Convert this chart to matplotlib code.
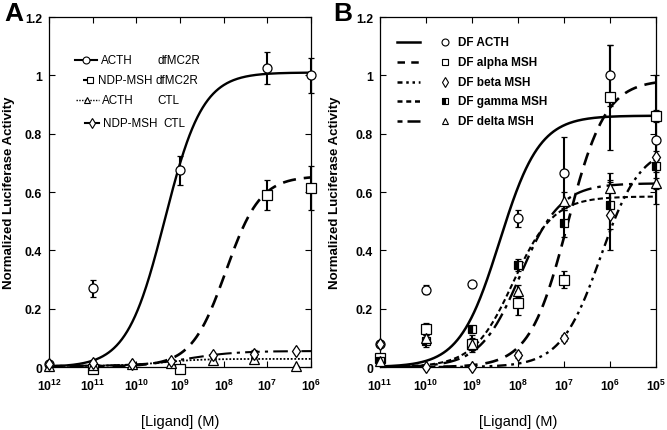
import numpy as np
import matplotlib
matplotlib.use("Agg")
import matplotlib.pyplot as plt
from matplotlib.lines import Line2D

plt.rcParams['font.family'] = ['Liberation Sans', 'DejaVu Sans']
plt.rcParams['font.weight'] = 'bold'
plt.rcParams['mathtext.fontset'] = 'custom'
plt.rcParams['mathtext.rm'] = 'Liberation Sans:bold'
plt.rcParams['mathtext.bf'] = 'Liberation Sans:bold'
plt.rcParams['mathtext.default'] = 'rm'

# ---------------- Panel A data ----------------
a_xlog = [-12, -11, -10, -9, -8, -7, -6]
a_xlabels = ["12", "11", "10", "9", "8", "7", "6"]
a_yticks = [0, 0.2, 0.4, 0.6, 0.8, 1.0, 1.2]
a_ylabels = ["0", "0.2", "0.4", "0.6", "0.8", "1", "1.2"]

acth_df_x = [-12, -11, -9, -7, -6]
acth_df_y = [0.01, 0.27, 0.675, 1.025, 1.0]
acth_df_e = [0.0, 0.03, 0.05, 0.055, 0.06]

ndp_df_x = [-11, -9, -7, -6]
ndp_df_y = [-0.005, -0.005, 0.59, 0.615]
ndp_df_e = [0.0, 0.0, 0.05, 0.075]

acth_ctl_x = [-12, -11, -10.1, -9.2, -8.25, -7.3, -6.35]
acth_ctl_y = [0.005, 0.006, 0.01, 0.015, 0.025, 0.028, 0.005]
acth_ctl_e = [0.0, 0.004, 0.004, 0.005, 0.005, 0.005, 0.0]

ndp_ctl_x = [-12, -11, -10.1, -9.2, -8.25, -7.3, -6.35]
ndp_ctl_y = [0.01, 0.015, 0.012, 0.02, 0.04, 0.045, 0.055]
ndp_ctl_e = [0.0, 0.008, 0.006, 0.008, 0.005, 0.012, 0.0]

# fit parameters: bottom, top, logEC50, hill
acth_df_fit = [0.0, 1.01, -9.35, 1.0]
ndp_df_fit = [0.003, 0.655, -7.95, 1.1]
acth_ctl_fit = [0.004, 0.028, -9.4, 1.0]
ndp_ctl_fit = [0.004, 0.055, -8.8, 0.8]

a_legend_names = ["ACTH", "NDP-MSH", "ACTH", "NDP-MSH"]
a_legend_cells = ["dfMC2R", "dfMC2R", "CTL", "CTL"]

# ---------------- Panel B data ----------------
b_xlog = [-11, -10, -9, -8, -7, -6, -5]
b_xlabels = ["11", "10", "9", "8", "7", "6", "5"]

b_x = [-11, -10, -9, -8, -7, -6, -5]
acth_y = [0.08, 0.265, 0.285, 0.51, 0.665, 1.0, 0.78]
acth_e = [0.01, 0.015, 0.01, 0.03, 0.125, 0.105, 0.22]
alpha_y = [0.03, 0.13, 0.08, 0.22, 0.30, 0.925, 0.86]
alpha_e = [0.01, 0.02, 0.02, 0.04, 0.03, 0.18, 0.02]
beta_y = [0.08, 0.0, 0.0, 0.04, 0.10, 0.52, 0.72]
beta_e = [0.01, 0.005, 0.005, 0.01, 0.01, 0.12, 0.02]
gamma_y = [0.02, 0.09, 0.13, 0.35, 0.495, 0.555, 0.69]
gamma_e = [0.01, 0.02, 0.01, 0.02, 0.05, 0.08, 0.02]
delta_y = [0.02, 0.10, 0.08, 0.26, 0.57, 0.615, 0.63]
delta_e = [0.01, 0.02, 0.03, 0.02, 0.03, 0.05, 0.02]

acth_fit = [0.0, 0.862, -8.4, 1.0]
alpha_fit = [0.0, 0.985, -6.92, 1.05]
beta_fit = [0.0, 0.76, -6.2, 1.0]
gamma_fit = [0.0, 0.585, -8.1, 1.0]
delta_fit = [0.0, 0.63, -7.95, 1.0]

b_legend_names = ["DF ACTH", "DF alpha MSH", "DF beta MSH", "DF gamma MSH", "DF delta MSH"]


def logistic(x, p):
    bottom, top, ec, h = p
    return bottom + (top - bottom) / (1 + 10 ** ((ec - x) * h))


fig = plt.figure(figsize=(6.67, 4.31), dpi=100)
axA = fig.add_axes([0.0735, 0.146, 0.3928, 0.812])
axB = fig.add_axes([0.5697, 0.146, 0.4138, 0.812])

ls_solid = '-'
ls_dash = (0, (5, 3))
ls_dot = (0, (1, 1))
ls_dashdot = (0, (7, 2.5, 1.5, 2.5))
ls_dashdotdot = (0, (4, 2, 1.2, 2, 1.2, 2))
ls_short = (0, (2.5, 1.5))

mk = dict(mfc='white', mec='black', ms=6.5, mew=0.9)
eb = dict(ecolor='black', elinewidth=1.5, capsize=2, capthick=1.2, ls='none', zorder=3)


def draw_err(ax, xs, ys, es, **kw):
    cont = ax.errorbar(xs, ys, yerr=es, **kw)
    arts = [cont.lines[0]] + list(cont.lines[1]) + list(cont.lines[2])
    for art in arts:
        if art is not None:
            art.set_clip_on(False)


# ---- Panel A ----
xa = np.linspace(-12, -6, 400)
series_A = [
    (acth_df_x, acth_df_y, acth_df_e, acth_df_fit, ls_solid, 'o', 1.7),
    (ndp_df_x, ndp_df_y, ndp_df_e, ndp_df_fit, ls_dash, 's', 1.9),
    (acth_ctl_x, acth_ctl_y, acth_ctl_e, acth_ctl_fit, ls_dot, '^', 1.3),
    (ndp_ctl_x, ndp_ctl_y, ndp_ctl_e, ndp_ctl_fit, ls_dashdot, 'd', 1.5),
]
for xs, ys, es, fit, ls, m, lw in series_A:
    axA.plot(xa, logistic(xa, fit), color='black', ls=ls, lw=lw, zorder=2)
    draw_err(axA, xs, ys, es, marker=m, **mk, **eb)

# legend A (drawn manually)
leg_rows_y = [0.876, 0.82, 0.763, 0.697]
leg_line_x = [(0.099, 0.183), (0.13, 0.183), (0.103, 0.19), (0.137, 0.19)]
leg_name_x = [0.198, 0.187, 0.202, 0.206]
leg_cell_x = [0.415, 0.408, 0.415, 0.435]
leg_styles = [(ls_solid, 'o'), (ls_dash, 's'), (ls_dot, '^'), ('-', 'd')]
for i in range(4):
    x0, x1 = leg_line_x[i]
    y = leg_rows_y[i]
    ls, m = leg_styles[i]
    axA.add_line(Line2D([x0, x1], [y, y], transform=axA.transAxes, color='black',
                        ls=ls, lw=1.5 if i != 2 else 1.0))
    axA.add_line(Line2D([(x0 + x1) / 2], [y], transform=axA.transAxes, marker=m,
                        mfc='white', mec='black', ms=5, mew=0.8, ls='none'))
    axA.text(leg_name_x[i], y, a_legend_names[i], transform=axA.transAxes,
             va='center', ha='left', fontsize=8.4, fontweight='normal')
    axA.text(leg_cell_x[i], y, a_legend_cells[i], transform=axA.transAxes,
             va='center', ha='left', fontsize=8.4, fontweight='normal')

axA.set_xlim(-12, -6)
axA.set_ylim(0, 1.2)
axA.set_xticks(a_xlog)
axA.set_xticklabels([r"$10^{%s}$" % s for s in a_xlabels])
axA.set_yticks(a_yticks)
axA.set_yticklabels(a_ylabels)

# ---- Panel B ----
xb = np.linspace(-11, -5, 400)
series_B = [
    (acth_y, acth_e, acth_fit, ls_solid, 'o', 'full', 1.8),
    (alpha_y, alpha_e, alpha_fit, ls_dash, 's', 'full', 1.9),
    (beta_y, beta_e, beta_fit, ls_dashdotdot, 'd', 'full', 1.7),
    (gamma_y, gamma_e, gamma_fit, ls_short, 's', 'left', 1.5),
    (delta_y, delta_e, delta_fit, ls_dashdot, '^', 'full', 1.7),
]
for ys, es, fit, ls, m, fs, lw in series_B:
    axB.plot(xb, logistic(xb, fit), color='black', ls=ls, lw=lw, zorder=2)
    if fs == 'left':
        draw_err(axB, b_x, ys, es, marker=m, mfc='black', mec='black', ms=6,
                 mew=0.9, fillstyle='left', markerfacecoloralt='white', **eb)
    else:
        draw_err(axB, b_x, ys, es, marker=m, **mk, **eb)

b_rows_y = [0.929, 0.871, 0.814, 0.760, 0.703]
b_line = (0.062, 0.145)
b_mark_x = 0.236
b_text_x = 0.283
b_styles = [(ls_solid, 'o', 'full'), ((0, (3, 2.5)), 's', 'full'),
            ((0, (2, 1.5, 1, 1.5, 1, 1.5)), 'd', 'full'),
            ((0, (2, 1.5)), 's', 'left'), ((0, (2, 2, 7, 1)), '^', 'full')]
for i in range(5):
    y = b_rows_y[i]
    ls, m, fs = b_styles[i]
    axB.add_line(Line2D([b_line[0], b_line[1]], [y, y], transform=axB.transAxes,
                        color='black', ls=ls, lw=1.8))
    if fs == 'left':
        axB.add_line(Line2D([b_mark_x], [y], transform=axB.transAxes, marker=m,
                            mfc='black', mec='black', ms=5, mew=0.8, ls='none',
                            fillstyle='left', markerfacecoloralt='white'))
    else:
        axB.add_line(Line2D([b_mark_x], [y], transform=axB.transAxes, marker=m,
                            mfc='white', mec='black', ms=5, mew=0.8, ls='none'))
    axB.text(b_text_x, y, b_legend_names[i], transform=axB.transAxes,
             va='center', ha='left', fontsize=8.5, fontweight='bold')

axB.set_xlim(-11, -5)
axB.set_ylim(0, 1.2)
axB.set_xticks(b_xlog)
axB.set_xticklabels([r"$10^{%s}$" % s for s in b_xlabels])
axB.set_yticks(a_yticks)
axB.set_yticklabels(a_ylabels)

for ax, lx in ((axA, -0.128), (axB, -0.143)):
    ax.tick_params(direction='in', top=True, right=True, length=4, width=0.8,
                   labelsize=8.8, pad=5)
    ax.tick_params(axis='x', pad=8)
    for sp in ax.spines.values():
        sp.set_linewidth(0.9)
    ax.set_ylabel("Normalized Luciferase Activity", fontsize=9.5, fontweight='bold')
    ax.yaxis.set_label_coords(lx, 0.5)
    ax.set_xlabel("[Ligand] (M)", fontsize=10.5, fontweight='normal', va='center')
    ax.xaxis.set_label_coords(0.5, -0.155)

fig.text(0.021, 0.968, "A", fontsize=19, fontweight='bold', ha='center', va='center')
fig.text(0.514, 0.968, "B", fontsize=19, fontweight='bold', ha='center', va='center')

fig.savefig("out.png", dpi=100)
